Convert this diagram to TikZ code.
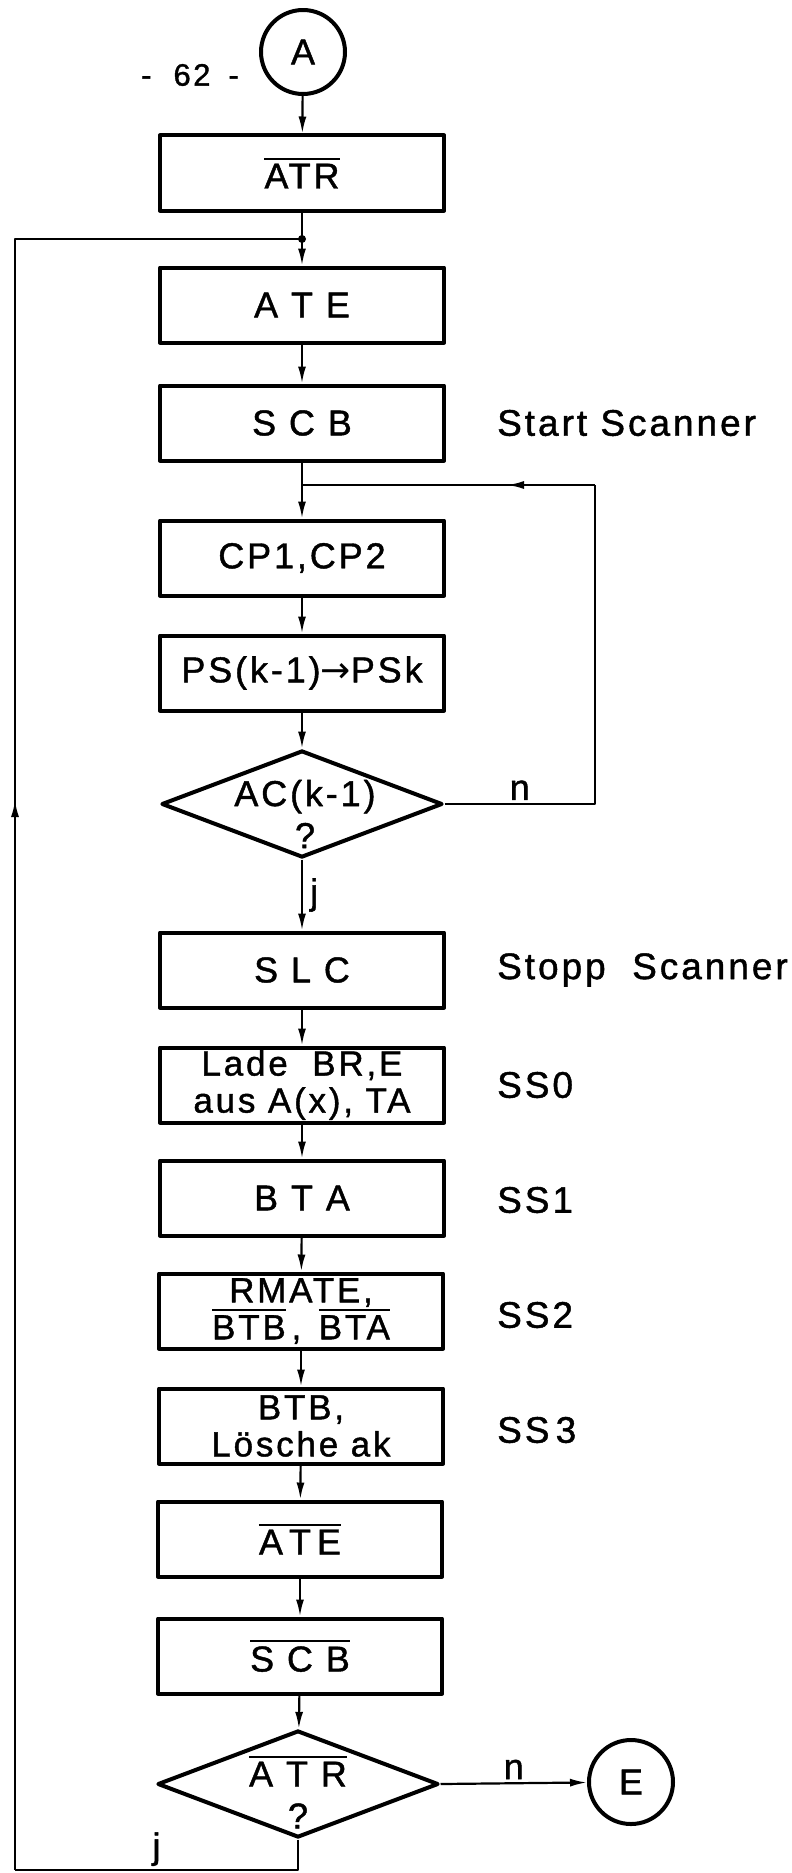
\documentclass[tikz,border=0pt]{standalone}
\usepackage{fontspec}
\setmainfont{Liberation Sans}[LetterSpace=8, FakeBold=1.2]
\newfontfamily\arrowfont{DejaVu Sans}
\usetikzlibrary{shapes.geometric,arrows.meta,decorations.markings}
\newcommand{\boxfont}{\fontsize{36}{42}\selectfont}
\newcommand{\pairfont}{\fontsize{35}{37}\selectfont}
\newcommand{\sidefont}{\fontsize{37}{40}\selectfont}
\newcommand{\pagefont}{\fontsize{31}{32}\selectfont}
\newcommand{\ovl}[1]{\vbox{\hrule height 2.2pt\kern 4pt\hbox{#1}}}

\begin{document}
\begin{tikzpicture}[x=1pt, y=-1pt, line join=round,
  box/.style={draw, line width=4pt, minimum width=284pt, minimum height=75pt, inner sep=0pt, align=center, font=\boxfont},
  query/.style={draw, diamond, line width=4pt, minimum width=281pt, minimum height=107pt, inner sep=0pt},
  qtext/.style={inner sep=0pt, align=center, font=\boxfont},
  term/.style={draw, circle, line width=4pt, minimum size=84pt, inner sep=0pt, font=\boxfont},
  side/.style={anchor=west, inner sep=0pt, font=\sidefont},
  lbl/.style={inner sep=3pt, font=\boxfont},
  conn/.style={line width=2.2pt},
  arr/.style={conn, -{Latex[length=17pt,width=8pt]}},
  back/.style={conn, postaction=decorate, decoration={markings, mark=at position #1 with {\arrow{Latex[length=17pt,width=8pt]}}}}]
\useasboundingbox (0,0) rectangle (792,1873);

% main column
\node[inner sep=0pt, font=\pagefont] (page) at (190,75) {-\hspace{22pt}62\hspace{18pt}-};
\node[term] (A) at (303,52) {A};
\node[box] (ATR) at (302,173) {\ovl{ATR}};
\node[box] (ATE) at (302,305) {A T E};
\node[box] (SCB) at (302,423) {S C B};
\node[box] (CP) at (302,558) {CP1,CP2};
\node[box] (PS) at (302,673) {PS(k-1){\arrowfont →}PSk};
\node[query] (ACq) at (302,804) {};
\node[qtext] (ACt) at (305,814) {AC(k-1)\\?};
\node[box] (SLC) at (302,970) {S L C};
\node[box, font=\pairfont] (Lade) at (302,1085) {Lade\hspace{0.7em}BR,E\\aus A(x), TA};
\node[box] (BTA) at (302,1198) {B T A};
\node[box, font=\pairfont] (RMATE) at (301,1311) {RMATE,\\\ovl{BTB}\,,\hspace{0.5em}\ovl{BTA}};
\node[box, font=\pairfont] (BTB) at (301,1426) {BTB,\\Lösche ak};
\node[box] (ATEn) at (300,1539) {\ovl{A\,T\,E}};
\node[box] (SCBn) at (300,1656) {\ovl{S C B}};
\node[query] (ATRq) at (298,1784) {};
\node[qtext] (ATRt) at (298,1792) {\ovl{A T R}\\?};
\node[term] (E) at (631,1782) {E};

% side notes
\node[side] (start) at (497,423) {Start Scanner};
\node[side] (stopp) at (497,970) {Stopp~ Scanner};
\node[side] (ss0) at (497,1085) {SS0};
\node[side] (ss1) at (497,1200) {SS1};
\node[side] (ss2) at (497,1315) {SS2};
\node[side] (ss3) at (497,1430) {SS\,3};

\coordinate (jtop) at (302,239);
\coordinate (jloop) at (302,485);
\coordinate (nR) at (595,804);
\coordinate (nT) at (595,485);
\coordinate (bR) at (298,1870);
\coordinate (bL) at (15,1870);
\coordinate (tL) at (15,239);

\draw[arr] (A) -- (ATR);
\draw[conn] (ATR) -- (jtop);
\fill (jtop) circle (4);
\draw[arr] (jtop) -- (ATE);
\draw[arr] (ATE) -- (SCB);
\draw[conn] (SCB) -- (jloop);
\draw[arr] (jloop) -- (CP);
\draw[arr] (CP) -- (PS);
\draw[arr] (PS) -- (ACq);
\draw[conn] (ACq.east) -- node[lbl, above] {n} (nR) -- (nT);
\draw[back=88pt] (nT) -- (jloop);
\draw[arr] (ACq) -- node[lbl, right, xshift=4pt] {j} (SLC);
\draw[arr] (SLC) -- (Lade);
\draw[arr] (Lade) -- (BTA);
\draw[arr] (BTA) -- (RMATE);
\draw[arr] (RMATE) -- (BTB);
\draw[arr] (BTB) -- (ATEn);
\draw[arr] (ATEn) -- (SCBn);
\draw[arr] (SCBn) -- (ATRq);
\draw[arr] (ATRq.east) -- node[lbl, above] {n} (E);
\draw[conn] (ATRq.south) -- (bR) -- node[lbl, above] {j} (bL);
\draw[back=1070pt] (bL) -- (tL) -- (jtop);
\end{tikzpicture}
\end{document}
